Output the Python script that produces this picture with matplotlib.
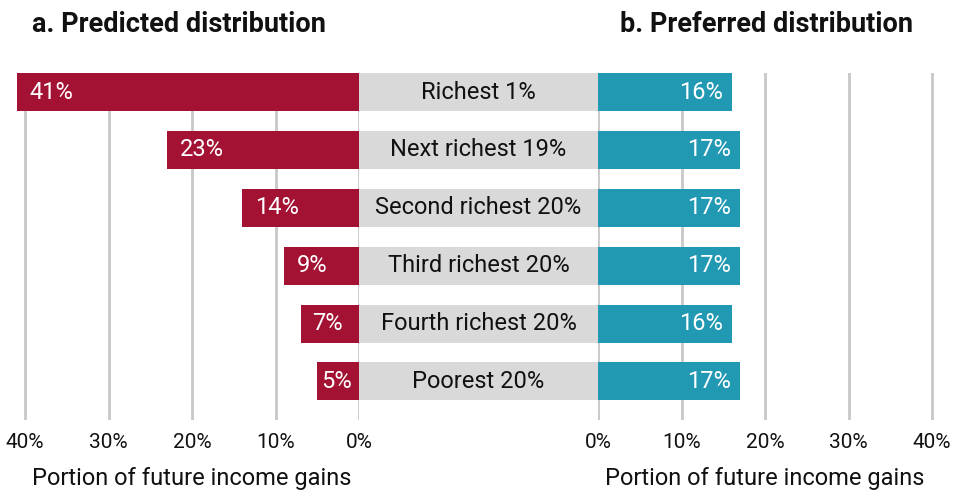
import matplotlib
matplotlib.use("Agg")
import matplotlib.pyplot as plt
import matplotlib.transforms as mtransforms

plt.rcParams['font.family'] = ['Roboto', 'DejaVu Sans']

groups = ["Richest 1%", "Next richest 19%", "Second richest 20%",
          "Third richest 20%", "Fourth richest 20%", "Poorest 20%"]
predicted = [41, 23, 14, 9, 7, 5]
preferred = [16, 17, 17, 17, 16, 17]
ticks = [0, 10, 20, 30, 40]
tick_labels = ["0%", "10%", "20%", "30%", "40%"]

RED = "#A31133"
BLUE = "#2299B3"
GRAY = "#D9D9D9"
GRID = "#C8C8C8"

W, H = 956, 492
fig = plt.figure(figsize=(W / 100, H / 100), dpi=100)

px_per_pct = 8.35
y_top, y_bot = 73, 420
ab = (H - y_bot) / H
ah = (y_bot - y_top) / H
pitch = 57.8
bar_h = 38 / pitch
ylim = (5 + (y_bot - 381.5) / pitch, -bar_h / 2)

# left axes
lx0, lx1 = 8, 359
axL = fig.add_axes([lx0 / W, ab, (lx1 - lx0) / W, ah])
axL.set_xlim((lx1 - lx0) / px_per_pct, 0)
# right axes
rx0, rx1 = 598, 948
axR = fig.add_axes([rx0 / W, ab, (rx1 - rx0) / W, ah])
axR.set_xlim(0, (rx1 - rx0) / px_per_pct)
# middle axes
axM = fig.add_axes([lx1 / W, ab, (rx0 - lx1) / W, ah])
axM.set_xlim(0, 1)

rows = list(range(len(groups)))
for ax in (axL, axR, axM):
    ax.set_ylim(*ylim)
    for s in ax.spines.values():
        s.set_visible(False)
    ax.set_yticks([])
    ax.set_axisbelow(True)
    ax.patch.set_alpha(0)

for ax in (axL, axR):
    ax.set_xticks(ticks)
    ax.set_xticklabels(tick_labels, fontsize=15, color="#111111")
    ax.tick_params(axis='x', length=0, pad=9)
    ax.grid(axis='x', color=GRID, linewidth=2)

axM.set_xticks([])

axL.barh(rows, predicted, height=bar_h, color=RED, zorder=3)
axR.barh(rows, preferred, height=bar_h, color=BLUE, zorder=3)
axM.barh(rows, [1] * len(groups), height=bar_h, color=GRAY, zorder=3)

FS = 17
for r, v in zip(rows, predicted):
    bar_px = v * px_per_pct
    off = min(13, max(4, (bar_px - 36) / 2))
    axL.annotate(f"{v}%", xy=(v, r), xytext=(off * 0.72, 0), textcoords='offset points',
                 ha='left', va='center', color='white', fontsize=FS, zorder=4)
for r, v in zip(rows, preferred):
    axR.annotate(f"{v}%", xy=(v, r), xytext=(-9 * 0.72, 0), textcoords='offset points',
                 ha='right', va='center', color='white', fontsize=FS, zorder=4)
for r, g in zip(rows, groups):
    axM.text(0.5, r, g, ha='center', va='center', color='#111111', fontsize=FS, zorder=4)

# axis labels
for ax in (axL, axR):
    tr = mtransforms.blended_transform_factory(ax.transData, fig.transFigure)
    ax.text(20, 1 - 479 / H, "Portion of future income gains", transform=tr,
            ha='center', va='center', fontsize=17, color='#111111')

# titles
fig.text(32 / W, 1 - 24 / H, "a. Predicted distribution", ha='left', va='center',
         fontsize=19.5, fontweight='bold', color='#111111')
fig.text(620 / W, 1 - 24 / H, "b. Preferred distribution", ha='left', va='center',
         fontsize=19.5, fontweight='bold', color='#111111')

fig.savefig("out.png", dpi=100)
